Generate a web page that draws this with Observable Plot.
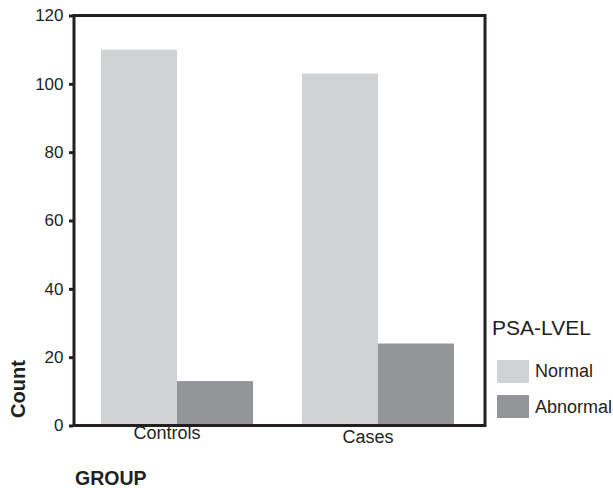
<!DOCTYPE html>
<html><head>
<meta charset="utf-8">
<script src="https://cdn.jsdelivr.net/npm/d3@7"></script>
<script src="https://cdn.jsdelivr.net/npm/@observablehq/plot@0.6"></script>
<style>
body{margin:0;background:#fff;}
svg{font-family:"Liberation Sans",Arial,Helvetica,sans-serif;}
</style>
</head><body><div id="chart"></div>
<script>
const groups = ["Controls", "Cases"];
const levels = ["Normal", "Abnormal"];
const normalCounts = [110, 103];
const abnormalCounts = [13, 24];
const yTicks = [0, 20, 40, 60, 80, 100, 120];
const levelColors = ["#d1d2d4", "#939598"];
const legendTitle = "PSA-LVEL";
const xTitle = "GROUP";
const yTitle = "Count";
const ink = "#231f20";

const data = groups.flatMap((g, i) => [
  {group: g, level: levels[0], count: normalCounts[i]},
  {group: g, level: levels[1], count: abnormalCounts[i]}
]);

const W = 613, H = 488, ML = 73, MR = 128, MT = 15.5, MB = 62.5;
const PI = 0.239, PO = 0.144, AL = 0.466;
// offset of the first facet from the left edge of the plot area (so the y axis sits on the frame)
const facetOffset = d3.scaleBand().domain(groups).range([ML, W - MR])
  .paddingInner(PI).paddingOuter(PO).align(AL)(groups[0]) - ML;

const plot = Plot.plot({
  width: W, height: H,
  marginLeft: ML, marginRight: MR, marginTop: MT, marginBottom: MB,
  style: {fontFamily: '"Liberation Sans",Arial,sans-serif', fontSize: "17px", color: ink, background: "#fff"},
  fx: {domain: groups, paddingInner: PI, paddingOuter: PO, align: AL, axis: null, label: null},
  x: {domain: levels, padding: 0, axis: null},
  y: {domain: [0, 120], axis: null},
  color: {domain: levels, range: levelColors},
  marks: [
    Plot.barY(data, {fx: "group", x: "level", y: "count", fill: "level"}),
    Plot.axisY({ticks: yTicks, tickSize: 4, tickPadding: 6, strokeWidth: 3, stroke: ink, fill: ink,
      fontSize: 17, label: null, dx: -facetOffset}),
    Plot.text([groups[0]], {fx: d => d, text: d => d, frameAnchor: "bottom", dx: -10, dy: 13, fontSize: 18, fill: ink}),
    Plot.text([groups[1]], {fx: d => d, text: d => d, frameAnchor: "bottom", dx: -10, dy: 17, fontSize: 18, fill: ink})
  ]
});

const svg = d3.select(plot);
const yr = plot.scale("y").range;
const yTopPx = Math.min(...yr), yBottomPx = Math.max(...yr);
svg.append("rect").attr("x", ML + 1).attr("y", yTopPx).attr("width", W - MR - ML - 1).attr("height", yBottomPx - yTopPx)
  .attr("fill", "none").attr("stroke", ink).attr("stroke-width", 3);

const g = svg.append("g").attr("fill", ink).attr("text-anchor", "start")
  .attr("font-family", '"Liberation Sans",Arial,sans-serif');
g.append("text").attr("x", 75).attr("y", 485).attr("font-size", 19.5).attr("font-weight", "bold").text(xTitle);
g.append("text").attr("transform", "translate(24.5,389) rotate(-90)").attr("text-anchor", "middle")
  .attr("font-size", 20).attr("font-weight", "bold").text(yTitle);
g.append("text").attr("x", 492).attr("y", 335).attr("font-size", 21).text(legendTitle);
const swatchY = [360, 395];
const labelY = [376.5, 412.5];
levels.forEach((lv, i) => {
  g.append("rect").attr("x", 497).attr("y", swatchY[i]).attr("width", 32).attr("height", 23).attr("fill", levelColors[i]);
  g.append("text").attr("x", 535).attr("y", labelY[i]).attr("font-size", 18).text(lv);
});

document.getElementById("chart").appendChild(plot);
</script>
</body></html>
